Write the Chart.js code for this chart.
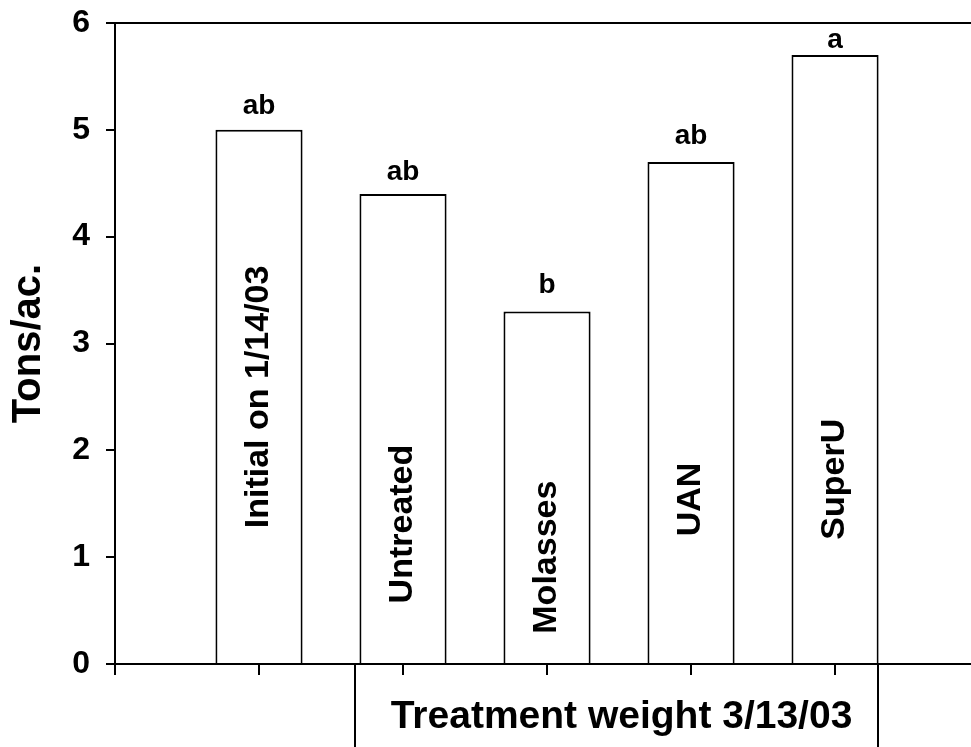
<!DOCTYPE html>
<html><head><meta charset="utf-8">
<script src="https://cdn.jsdelivr.net/npm/chart.js@4.4.1/dist/chart.umd.min.js"></script>
<style>html,body{margin:0;padding:0;background:#fff;} canvas{display:block;}</style>
</head><body>
<canvas id="c" width="971" height="747"></canvas>
<script>
// ---- data ----
const categories = ['Initial on 1/14/03', 'Untreated', 'Molasses', 'UAN', 'SuperU'];
const positions = [1, 2, 3, 4, 5];
const values = [5.0, 4.4, 3.3, 4.7, 5.7];
const letters = ['ab', 'ab', 'b', 'ab', 'a'];
const yTicks = [0, 1, 2, 3, 4, 5, 6];
const xTicks = [0, 1, 2, 3, 4, 5];
const yTitle = 'Tons/ac.';
const groupLabel = 'Treatment weight 3/13/03';

// ---- presentation ----
const FF = '"Liberation Sans", Arial, Helvetica, sans-serif';
const labelCenter = [2.5, 1.31, 1.0, 1.54, 1.73]; // in y units, where rotated names sit
const letterGap = [16, 14, 18, 18, 7];

const annot = {
  id: 'annot',
  afterDatasetsDraw(chart) {
    const ctx = chart.ctx;
    const meta = chart.getDatasetMeta(0);
    const ys = chart.scales.y;
    ctx.save();
    ctx.fillStyle = '#000';
    meta.data.forEach((bar, i) => {
      ctx.font = 'bold 28px ' + FF;
      ctx.textAlign = 'center';
      ctx.textBaseline = 'alphabetic';
      ctx.fillText(letters[i], bar.x, bar.y - letterGap[i]);
      ctx.save();
      ctx.translate(bar.x, ys.getPixelForValue(labelCenter[i]));
      ctx.rotate(-Math.PI / 2);
      ctx.font = 'bold 34px ' + FF;
      ctx.textAlign = 'center';
      ctx.textBaseline = 'middle';
      ctx.fillText(categories[i], 0, 0);
      ctx.restore();
    });
    ctx.restore();
  },
  afterDraw(chart) {
    const ctx = chart.ctx;
    const meta = chart.getDatasetMeta(0);
    const b1 = meta.data[1], b4 = meta.data[4];
    const xl = Math.round(b1.x - b1.width / 2 - 4);
    const xr = Math.round(b4.x + b4.width / 2 - 1);
    const top = chart.chartArea.bottom;
    const bottom = chart.height;
    ctx.save();
    ctx.strokeStyle = '#000';
    ctx.lineWidth = 2;
    ctx.beginPath();
    ctx.moveTo(xl, top); ctx.lineTo(xl, bottom);
    ctx.moveTo(xr, top); ctx.lineTo(xr, bottom);
    ctx.stroke();
    ctx.fillStyle = '#000';
    ctx.font = 'bold 39px ' + FF;
    ctx.textAlign = 'center';
    ctx.textBaseline = 'alphabetic';
    ctx.fillText(groupLabel, (xl + xr) / 2 + 5, top + 64);
    ctx.restore();
  }
};

new Chart(document.getElementById('c'), {
  type: 'bar',
  data: {
    datasets: [{
      data: positions.map((p, i) => ({ x: p, y: values[i] })),
      backgroundColor: '#ffffff',
      borderColor: '#000000',
      borderWidth: 2,
      barPercentage: 0.605,
      categoryPercentage: 1.0
    }]
  },
  options: {
    responsive: false,
    animation: false,
    devicePixelRatio: 1,
    layout: { padding: { top: 23, right: 0, bottom: 0, left: 0 } },
    plugins: { legend: { display: false }, tooltip: { enabled: false } },
    scales: {
      x: {
        type: 'linear',
        min: 0,
        max: 5.944,
        offset: false,
        z: 1,
        afterBuildTicks: s => { s.ticks = xTicks.map(v => ({ value: v })); },
        afterFit: s => { s.height = 83; s.paddingLeft = 0; s.paddingRight = 0; },
        ticks: { callback: () => '', includeBounds: false },
        grid: { drawOnChartArea: false, drawTicks: true, tickLength: 11, color: '#000', lineWidth: 2, offset: false },
        border: { display: true, color: '#000', width: 2 }
      },
      y: {
        min: 0,
        max: 6,
        afterBuildTicks: s => { s.ticks = yTicks.map(v => ({ value: v })); },
        afterFit: s => { s.width = 115; s.paddingTop = 0; s.paddingBottom = 0; },
        ticks: { color: '#000', padding: 16, font: { family: FF, size: 32, weight: 'bold' } },
        grid: {
          drawTicks: true,
          tickLength: 9,
          tickColor: '#000',
          tickWidth: 2,
          lineWidth: 2,
          color: c => (c.tick && c.tick.value === 6) ? '#000' : 'rgba(0,0,0,0)'
        },
        border: { display: true, color: '#000', width: 2 },
        title: { display: true, text: yTitle, color: '#000', padding: { top: 5, bottom: 0 }, font: { family: FF, size: 40, weight: 'bold' } }
      }
    }
  },
  plugins: [annot]
});
</script>
</body></html>
